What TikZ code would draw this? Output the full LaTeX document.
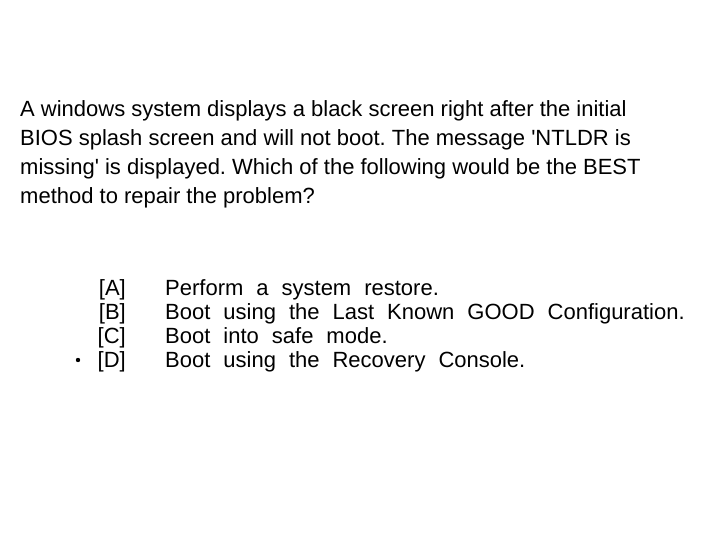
\documentclass[tikz,border=0pt]{standalone}
\usepackage{fontspec}
\setmainfont{Liberation Sans}
\frenchspacing
\newcommand\myoptfont{\fontsize{22}{26}\selectfont\spaceskip=13pt plus 1pt\relax}
\begin{document}
\begin{tikzpicture}[x=1pt,y=1pt,
  txt/.style={anchor=base west,inner sep=0pt,font=\fontsize{22}{26}\selectfont},
  opt/.style={anchor=base west,inner sep=0pt,font=\myoptfont},
  lab/.style={anchor=base east,inner sep=0pt,font=\fontsize{22}{26}\selectfont}]
\useasboundingbox (0,0) rectangle (720,-540);
\node[txt] (q1) at (20,-117) {A windows system displays a black screen right after the initial};
\node[txt] (q2) at (20,-146) {BIOS splash screen and will not boot. The message \textquotesingle NTLDR is};
\node[txt] (q3) at (20,-175) {missing\textquotesingle{} is displayed. Which of the following would be the BEST};
\node[txt] (q4) at (20,-204) {method to repair the problem?};
\node[lab] (la) at (126,-295) {[A]};
\node[lab] (lb) at (126,-319) {[B]};
\node[lab] (lc) at (126,-343) {[C]};
\node[lab] (ld) at (126,-367) {[D]};
\node[opt] (oa) at (165,-295) {Perform a system restore.};
\node[opt] (ob) at (165,-319) {Boot using the Last Known GOOD Configuration.};
\node[opt] (oc) at (165,-343) {Boot into safe mode.};
\node[opt] (od) at (165,-367) {Boot using the Recovery Console.};
\fill (78,-360) circle (2.2);
\end{tikzpicture}
\end{document}
